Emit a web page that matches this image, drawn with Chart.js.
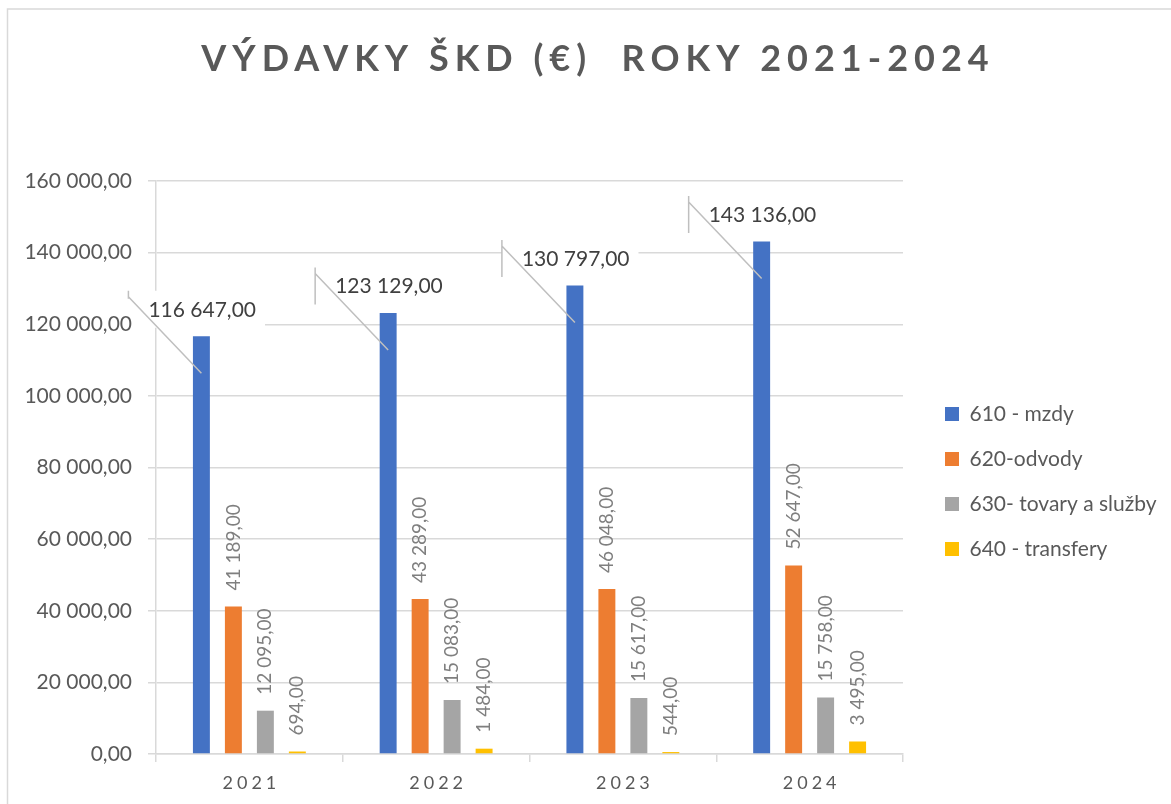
<!DOCTYPE html>
<html>
<head>
<meta charset="utf-8">
<script src="https://cdn.jsdelivr.net/npm/chart.js@4.4.1/dist/chart.umd.min.js"></script>
<style>
    html, body { margin: 0; padding: 0; background: #fff; }
    #wrap { width: 1171px; height: 804px; }
</style>
</head>
<body>
<div id="wrap"><canvas id="chart" width="1171" height="804"></canvas></div>
<script>
// Datos del gráfico
const years = ['2021', '2022', '2023', '2024'];
const seriesNames = ['610 - mzdy', '620-odvody', '630- tovary a služby', '640 - transfery'];
const mzdy = [116647, 123129, 130797, 143136];
const odvody = [41189, 43289, 46048, 52647];
const tovary = [12095, 15083, 15617, 15758];
const transfery = [694, 1484, 544, 3495];
const seriesColors = ['#4472C4', '#ED7D31', '#A5A5A5', '#FFC000'];
const yMin = 0;
const yMax = 160000;
const yStep = 20000;
const chartTitle = 'VÝDAVKY ŠKD (€)  ROKY 2021-2024';

const FONT = 'Lato, "Open Sans", sans-serif';

// Formato 123 456,00
function fmt(v) {
    const parts = Number(v).toFixed(2).split('.');
    return parts[0].replace(/\B(?=(\d{3})+(?!\d))/g, ' ') + ',' + parts[1];
}

// Fondo, borde exterior, título y etiquetas del eje X
const framePlugin = {
    id: 'frame',
    beforeDraw(chart) {
        const ctx = chart.ctx;
        ctx.save();
        ctx.fillStyle = '#fff';
        ctx.fillRect(0, 0, chart.width, chart.height);
        ctx.strokeStyle = '#d9d9d9';
        ctx.lineWidth = 1.5;
        ctx.beginPath();
        ctx.moveTo(7.5, chart.height);
        ctx.lineTo(7.5, 9);
        ctx.lineTo(chart.width, 9);
        ctx.stroke();
        ctx.restore();
    },
    afterDraw(chart) {
        const ctx = chart.ctx;
        ctx.save();
        ctx.font = `bold 36px ${FONT}`;
        ctx.fillStyle = '#595959';
        ctx.letterSpacing = '6px';
        ctx.textAlign = 'center';
        ctx.textBaseline = 'middle';
        ctx.fillText(chartTitle, 598, 59);

        const xs = chart.scales.x;
        ctx.font = `18px ${FONT}`;
        ctx.letterSpacing = '4px';
        years.forEach((y, i) => {
            ctx.fillText(y, xs.getPixelForValue(i) + 2, 783);
        });
        ctx.restore();
    }
};

// Ancho fijo y posición de la leyenda
const legendPlugin = {
    id: 'legendFit',
    beforeLayout(chart) {
        const lg = chart.legend;
        if (lg && !lg._patched) {
            const orig = lg.fit.bind(lg);
            lg.fit = function() {
                orig();
                this.width = 268;
            };
            lg._patched = true;
        }
    },
    afterLayout(chart) {
        const lg = chart.legend;
        if (lg) {
            lg.left += 18;
            lg.right += 18;
            lg.top -= 11;
            lg.bottom -= 11;
        }
    }
};

// Etiquetas de datos
const labelsPlugin = {
    id: 'barLabels',
    afterDatasetsDraw(chart) {
        const ctx = chart.ctx;
        const axisLeft = chart.chartArea.left - 8;
        ctx.save();
        chart.data.datasets.forEach((ds, di) => {
            const meta = chart.getDatasetMeta(di);
            meta.data.forEach((bar, i) => {
                const txt = fmt(ds.data[i]);
                if (di === 0) {
                    ctx.font = `21px ${FONT}`;
                    const tw = ctx.measureText(txt).width;
                    const tx = bar.x - 53;
                    const cy = bar.y - 26.5;
                    const vx = tx - 20;
                    const bx = Math.max(vx, axisLeft);
                    ctx.fillStyle = '#fff';
                    ctx.fillRect(bx, cy - 19, tx + tw + 9 - bx, 37);
                    ctx.strokeStyle = '#bfbfbf';
                    ctx.lineWidth = 1.5;
                    ctx.beginPath();
                    ctx.moveTo(vx, cy - 19);
                    ctx.lineTo(vx, vx < axisLeft ? cy - 11 : cy + 18);
                    ctx.moveTo(vx, cy - 13);
                    ctx.lineTo(bar.x, bar.y + 37);
                    ctx.stroke();
                    ctx.fillStyle = '#404040';
                    ctx.textAlign = 'left';
                    ctx.textBaseline = 'middle';
                    ctx.fillText(txt, tx, cy);
                } else {
                    ctx.save();
                    ctx.translate(bar.x, bar.y - 16);
                    ctx.rotate(-Math.PI / 2);
                    ctx.font = `19px ${FONT}`;
                    ctx.fillStyle = '#7f7f7f';
                    ctx.textAlign = 'left';
                    ctx.textBaseline = 'middle';
                    ctx.fillText(txt, 0, 0);
                    ctx.restore();
                }
            });
        });
        ctx.restore();
    }
};

Chart.defaults.font.family = FONT;

const seriesData = [mzdy, odvody, tovary, transfery];

const ctx = document.getElementById('chart').getContext('2d');
const chart = new Chart(ctx, {
    type: 'bar',
    data: {
        labels: years,
        datasets: seriesNames.map((name, i) => ({
            label: name,
            data: seriesData[i],
            backgroundColor: seriesColors[i],
            borderWidth: 0,
            categoryPercentage: 0.685,
            barPercentage: 0.53
        }))
    },
    options: {
        responsive: false,
        animation: false,
        devicePixelRatio: 1,
        layout: {
            padding: { top: 181, left: 0, right: 0, bottom: 0 }
        },
        plugins: {
            title: { display: false },
            tooltip: { enabled: false },
            legend: {
                display: true,
                position: 'right',
                align: 'center',
                labels: {
                    boxWidth: 14,
                    boxHeight: 14,
                    padding: 24,
                    color: '#595959',
                    font: { size: 21, family: FONT }
                }
            }
        },
        scales: {
            x: {
                grid: {
                    drawOnChartArea: false,
                    drawTicks: true,
                    tickLength: 8,
                    color: '#d9d9d9',
                    lineWidth: 1.5,
                    offset: true
                },
                border: { color: '#d9d9d9', width: 1.5 },
                ticks: { color: 'rgba(0,0,0,0)', font: { size: 18 } },
                afterFit: s => { s.height = 50; }
            },
            y: {
                min: yMin,
                max: yMax,
                ticks: {
                    stepSize: yStep,
                    callback: v => fmt(v),
                    color: '#595959',
                    padding: 16,
                    font: { size: 21, family: FONT }
                },
                grid: {
                    color: '#d9d9d9',
                    lineWidth: 1.5,
                    tickLength: 8
                },
                border: { color: '#d9d9d9', width: 1.5 },
                afterFit: s => { s.width = 156; }
            }
        }
    },
    plugins: [framePlugin, legendPlugin, labelsPlugin]
});
</script>
</body>
</html>
